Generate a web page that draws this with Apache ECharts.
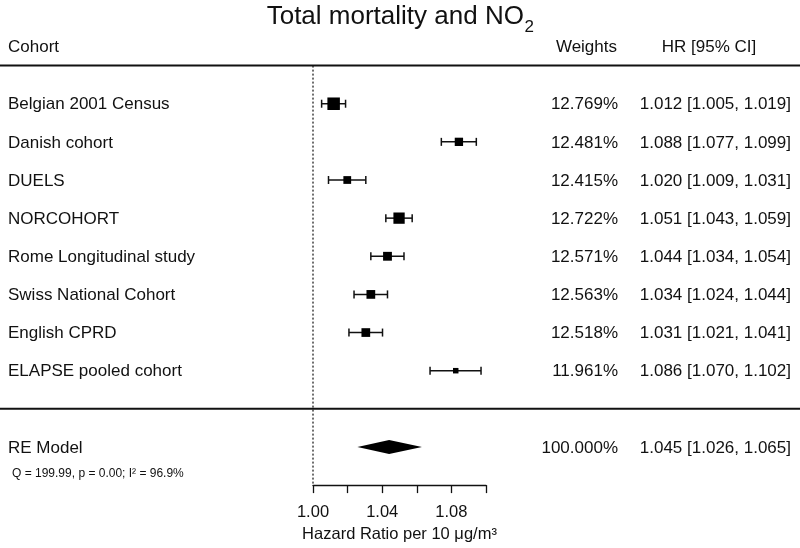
<!DOCTYPE html>
<html>
<head>
<meta charset="utf-8">
<script src="https://cdn.jsdelivr.net/npm/echarts@6/dist/echarts.min.js"></script>
<style>html,body{margin:0;padding:0;background:#fff}#c{width:800px;height:548px}</style>
</head>
<body>
<div id="c"></div>
<script>
// ---------- data ----------
const cohorts = ['Belgian 2001 Census', 'Danish cohort', 'DUELS', 'NORCOHORT', 'Rome Longitudinal study', 'Swiss National Cohort', 'English CPRD', 'ELAPSE pooled cohort'];
const hr      = [1.012, 1.088, 1.020, 1.051, 1.044, 1.034, 1.031, 1.086];
const ciLow   = [1.005, 1.077, 1.009, 1.043, 1.034, 1.024, 1.021, 1.070];
const ciHigh  = [1.019, 1.099, 1.031, 1.059, 1.054, 1.044, 1.041, 1.102];
const weights = [12.769, 12.481, 12.415, 12.722, 12.571, 12.563, 12.518, 11.961];
const pooledLabel = 'RE Model';
const pooledHR = 1.045, pooledLow = 1.026, pooledHigh = 1.065, pooledWeight = 100.000;
const heterogeneity = 'Q = 199.99, p = 0.00; I\u00B2 = 96.9%';
const columnHeaders = ['Cohort', 'Weights', 'HR [95% CI]'];
const xTickLabels = ['1.00', '1.04', '1.08'];
const axisTitle = 'Hazard Ratio per 10 \u03BCg/m\u00B3';
const titleMain = 'Total mortality and NO';
const titleSub = '2';

// ---------- helpers ----------
const FONT = '"Liberation Sans", Arial, Helvetica, sans-serif';
const INK = '#111';
const FS = 17;
const k = cohorts.length;
const studyData = cohorts.map((c, i) => [Math.log(hr[i]), Math.log(ciLow[i]), Math.log(ciHigh[i]), k - i, i]);
const prec = studyData.map(d => 1 / (d[2] - d[1]));
const pmin = Math.min(...prec), pmax = Math.max(...prec);
const ciText = (e, l, h) => e.toFixed(3) + ' [' + l.toFixed(3) + ', ' + h.toFixed(3) + ']';

function txt(text, x, y, size, align) {
  return { type: 'text', style: { text: text, x: x, y: y + 1, fontSize: size, fontFamily: FONT, fill: INK, align: align, verticalAlign: 'middle' } };
}
function seg(x1, y1, x2, y2, w, dash) {
  return { type: 'line', shape: { x1: x1, y1: y1, x2: x2, y2: y2 }, style: { stroke: INK, lineWidth: w, lineDash: dash || null } };
}

const COL_W = 618, COL_HR = 791, COL_HR_C = 709;

// title measurement
const ctx = document.createElement('canvas').getContext('2d');
ctx.font = '26px ' + FONT;
const wMain = ctx.measureText(titleMain).width;
ctx.font = '17px ' + FONT;
const wSub = ctx.measureText(titleSub).width;
const tx = 400 - (wMain + wSub) / 2;

const chart = echarts.init(document.getElementById('c'), null, { renderer: 'canvas' });
chart.setOption({
  animation: false,
  backgroundColor: '#fff',
  grid: { left: 313, right: 314, top: 27.45, bottom: 58, containLabel: false },
  xAxis: {
    type: 'value', min: 0, max: 0.10, interval: 0.02,
    axisLine: { show: true, onZero: false, lineStyle: { color: INK, width: 1.3 } },
    axisTick: { show: true, length: 8, inside: false, lineStyle: { color: INK, width: 1.3 } },
    splitLine: { show: false },
    axisLabel: {
      margin: 19, fontSize: 16.5, fontFamily: FONT, color: INK,
      formatter: v => { const s = Math.exp(v).toFixed(2); return xTickLabels.indexOf(s) >= 0 ? s : ''; }
    },
    name: axisTitle, nameLocation: 'middle', nameGap: 32,
    nameTextStyle: { fontSize: 16.5, fontFamily: FONT, color: INK }
  },
  yAxis: { type: 'value', min: -2, max: 10, show: false },
  graphic: [
    { type: 'text', x: tx, y: 17, style: { text: titleMain, fontSize: 26, fontFamily: FONT, fill: INK, verticalAlign: 'middle' } },
    { type: 'text', x: tx + wMain + 0.5, y: 27, style: { text: titleSub, fontSize: 17, fontFamily: FONT, fill: INK, verticalAlign: 'middle' } }
  ],
  series: [
    {
      type: 'custom', z: 1, clip: false,
      data: [[0, 9]],
      renderItem: (params, api) => {
        const top = api.coord([0, 9]);
        const bot = api.coord([0, -2]);
        const sep = api.coord([0, 0]);
        const hy = api.coord([0, 9.5])[1];
        return { type: 'group', children: [
          seg(0, top[1], 800, top[1], 2),
          seg(0, sep[1], 800, sep[1], 2),
          seg(top[0], top[1], bot[0], bot[1], 1.2, [2, 2]),
          txt(columnHeaders[0], 8, hy, FS, 'left'),
          txt(columnHeaders[1], COL_W - 1, hy, FS, 'right'),
          txt(columnHeaders[2], COL_HR_C, hy, FS, 'center')
        ] };
      }
    },
    {
      type: 'custom', z: 3, clip: false,
      data: studyData,
      encode: { x: [0, 1, 2], y: 3 },
      renderItem: (params, api) => {
        const i = api.value(4);
        const row = api.value(3);
        const c = api.coord([api.value(0), row]);
        const l = api.coord([api.value(1), row]);
        const h = api.coord([api.value(2), row]);
        const y = c[1];
        const s = 5.5 + 7 * (prec[i] - pmin) / (pmax - pmin);
        const cap = 4;
        return { type: 'group', children: [
          seg(l[0], y, h[0], y, 1.5),
          seg(l[0], y - cap, l[0], y + cap, 1.5),
          seg(h[0], y - cap, h[0], y + cap, 1.5),
          { type: 'rect', shape: { x: c[0] - s / 2, y: y - s / 2, width: s, height: s }, style: { fill: '#000' } },
          txt(cohorts[i], 8, y, FS, 'left'),
          txt(weights[i].toFixed(3) + '%', COL_W, y, FS, 'right'),
          txt(ciText(hr[i], ciLow[i], ciHigh[i]), COL_HR, y, FS, 'right')
        ] };
      }
    },
    {
      type: 'custom', z: 3, clip: false,
      data: [[Math.log(pooledHR), Math.log(pooledLow), Math.log(pooledHigh), -1]],
      encode: { x: [0, 1, 2], y: 3 },
      renderItem: (params, api) => {
        const row = api.value(3);
        const c = api.coord([api.value(0), row]);
        const l = api.coord([api.value(1), row]);
        const h = api.coord([api.value(2), row]);
        const y = c[1];
        const hh = 7;
        const qy = api.coord([0, row - 0.68])[1];
        return { type: 'group', children: [
          { type: 'polygon', shape: { points: [[l[0], y], [c[0], y - hh], [h[0], y], [c[0], y + hh]] }, style: { fill: '#000' } },
          txt(pooledLabel, 8, y, FS, 'left'),
          txt(heterogeneity, 12, qy, 12, 'left'),
          txt(pooledWeight.toFixed(3) + '%', COL_W, y, FS, 'right'),
          txt(ciText(pooledHR, pooledLow, pooledHigh), COL_HR, y, FS, 'right')
        ] };
      }
    }
  ]
});
</script>
</body>
</html>
